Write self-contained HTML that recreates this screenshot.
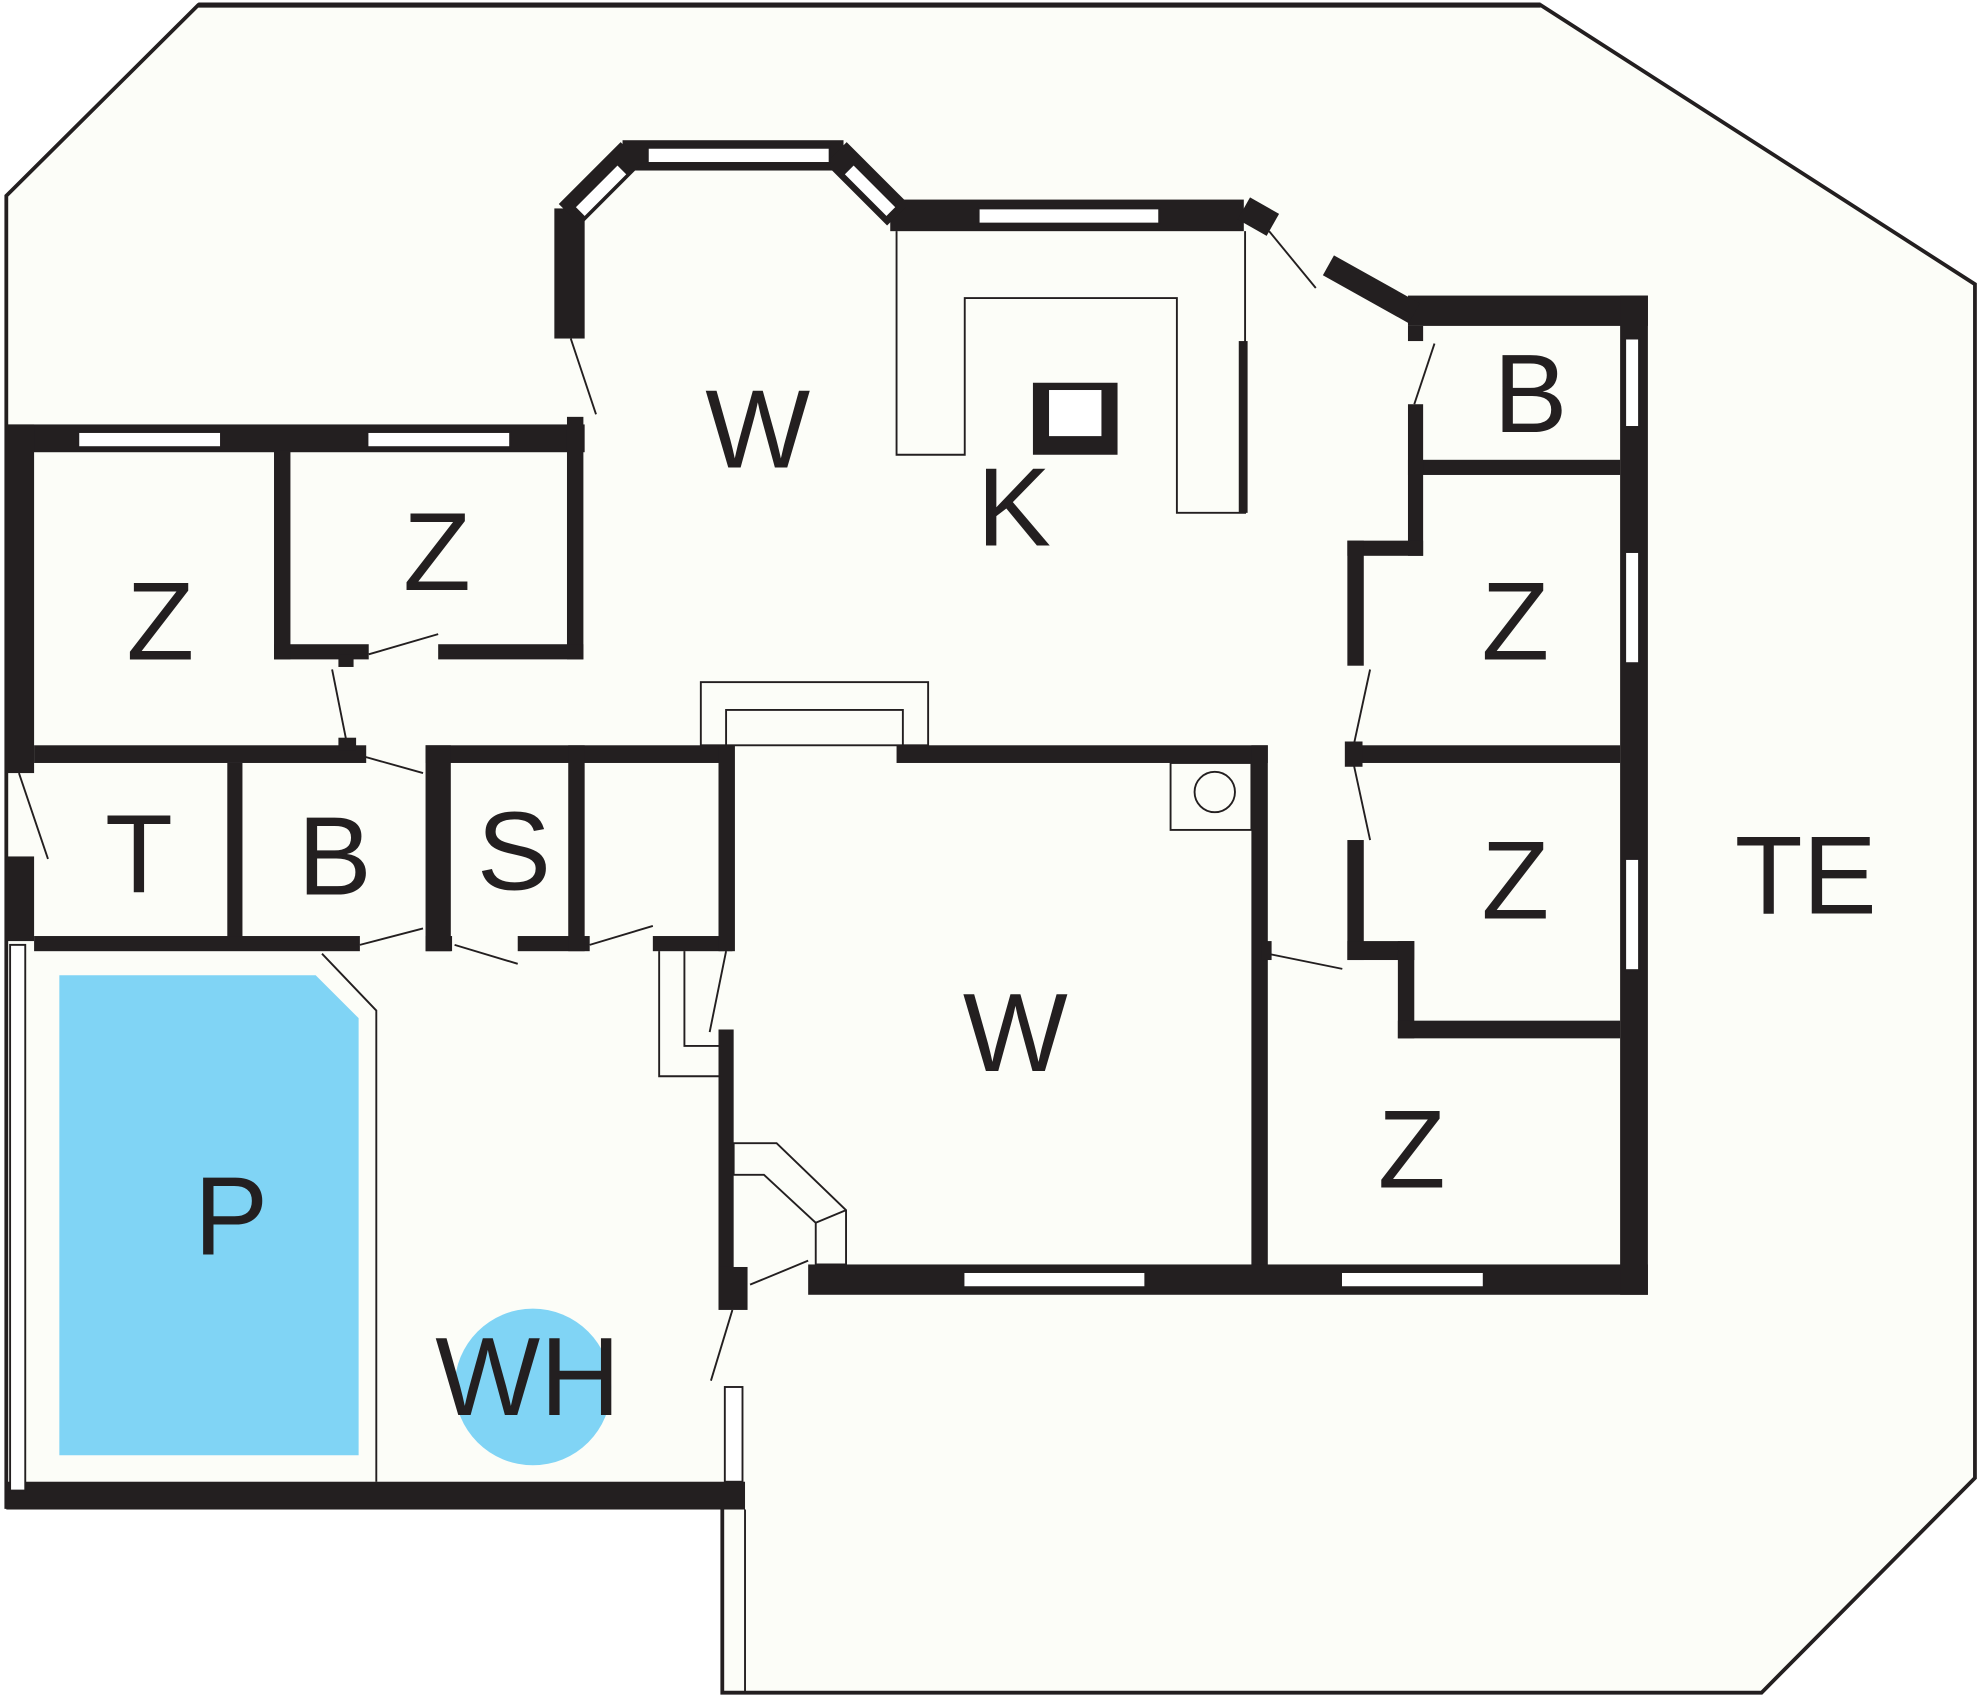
<!DOCTYPE html>
<html><head><meta charset="utf-8"><style>
html,body{margin:0;padding:0;background:#fff;}
svg{display:block;}
text{font-family:"Liberation Sans",sans-serif;font-size:88px;fill:#231f20;text-anchor:middle;}
</style></head><body>
<svg width="1980" height="1699" viewBox="0 0 1568 1345" preserveAspectRatio="none" xmlns="http://www.w3.org/2000/svg">
<rect width="1568" height="1345" fill="#fff"/>
<polygon points="5,155 157,4 1220,4 1564,225 1564,1170 1395,1340 572,1340 572,1193 5,1193" fill="#fcfdf8" stroke="#231f20" stroke-width="3"/>
<line x1="157" y1="4" x2="1220" y2="4" stroke="#231f20" stroke-width="4"/>
<!-- pool -->
<polygon points="47,772 250,772 284,806 284,1152 47,1152" fill="#80d4f5"/>
<circle cx="422" cy="1098" r="62" fill="#80d4f5"/>
<g fill="none" stroke="#231f20" stroke-width="1.5">
<polyline points="255,755 298,800 298,1173"/>
<polyline points="710,183 710,360 764,360 764,236 932,236 932,406 986,406 986,183"/>
<rect x="555" y="540" width="180" height="50"/>
<polyline points="575,590 575,562 715,562 715,590"/>
<rect x="927" y="604" width="64" height="53"/>
<circle cx="962" cy="627" r="16"/>
<polyline points="522,753 522,852 569,852"/><polyline points="542,753 542,828 569,828"/>
<polygon points="581,905 615,905 670,958 670,1001 646,1001 646,968 605,930 581,930"/>
<line x1="646" y1="968" x2="670" y2="958"/>
<line x1="452" y1="268" x2="472" y2="328"/><line x1="292" y1="518" x2="347" y2="502"/>
<line x1="263" y1="530" x2="275" y2="590"/><line x1="285" y1="598" x2="335" y2="612"/>
<line x1="15" y1="612" x2="38" y2="680"/><line x1="285" y1="748" x2="335" y2="735"/>
<line x1="360" y1="748" x2="410" y2="763"/><line x1="467" y1="748" x2="517" y2="733"/>
<line x1="562" y1="817" x2="575" y2="753"/><line x1="594" y1="1017" x2="640" y2="998"/>
<line x1="580" y1="1037" x2="563" y2="1093"/><line x1="1005" y1="183" x2="1042" y2="228"/>
<line x1="1120" y1="320" x2="1136" y2="272"/><line x1="1072" y1="590" x2="1085" y2="530"/>
<line x1="1072" y1="605" x2="1085" y2="665"/><line x1="1004" y1="755" x2="1063" y2="767"/>
<line x1="572" y1="1195" x2="572" y2="1340"/><line x1="590" y1="1195" x2="590" y2="1340"/>
</g>
<g fill="#231f20">
<rect x="5" y="336" width="458" height="22"/>
<rect x="5" y="336" width="22" height="276"/>
<rect x="5" y="678" width="22" height="67"/>
<rect x="5" y="1173" width="585" height="22"/>
<rect x="449" y="330" width="13" height="192"/>
<rect x="217" y="510" width="75" height="12"/><rect x="347" y="510" width="115" height="12"/>
<rect x="217" y="357" width="13" height="165"/>
<rect x="268" y="518" width="12" height="10"/>
<rect x="27" y="590" width="263" height="14"/><rect x="337" y="590" width="243" height="14"/>
<rect x="268" y="584" width="14" height="10"/>
<rect x="180" y="604" width="12" height="141"/>
<rect x="27" y="741" width="258" height="12"/><rect x="337" y="741" width="21" height="12"/>
<rect x="410" y="741" width="57" height="12"/><rect x="517" y="741" width="63" height="12"/>
<rect x="337" y="590" width="20" height="163"/><rect x="450" y="590" width="13" height="163"/><rect x="569" y="590" width="13" height="163"/>
<rect x="710" y="590" width="294" height="14"/><rect x="991" y="590" width="13" height="415"/>
<rect x="640" y="1001" width="665" height="24"/>
<rect x="569" y="815" width="12" height="220"/><rect x="569" y="1003" width="23" height="34"/>
<rect x="439" y="165" width="24" height="103"/>
<rect x="493" y="111" width="175" height="24"/>
<rect x="705" y="158" width="280" height="25"/>
<rect x="1115" y="234" width="190" height="24"/><rect x="1283" y="234" width="22" height="791"/>
<rect x="1115" y="364" width="168" height="12"/>
<rect x="1115" y="258" width="12" height="12"/><rect x="1115" y="320" width="12" height="120"/>
<rect x="1067" y="428" width="60" height="12"/><rect x="1067" y="428" width="13" height="99"/>
<rect x="1067" y="590" width="216" height="14"/><rect x="1065" y="587" width="14" height="20"/>
<rect x="1067" y="665" width="13" height="95"/><rect x="1067" y="745" width="53" height="15"/>
<rect x="1107" y="745" width="13" height="77"/><rect x="1107" y="808" width="176" height="14"/>
<rect x="981" y="270" width="7" height="136"/>
<rect x="818" y="303" width="67" height="57"/>
<rect x="999" y="745" width="8" height="15"/>
</g>
<g stroke="#231f20" stroke-linecap="butt">
<line x1="451" y1="170" x2="500" y2="121" stroke-width="24"/>
<line x1="662" y1="121" x2="711" y2="170" stroke-width="24"/>
<line x1="985" y1="165" x2="1008" y2="178" stroke-width="20"/>
<line x1="1052" y1="210" x2="1120" y2="248" stroke-width="18"/>
</g>
<g fill="#fff" stroke="#231f20" stroke-width="1.5">
<rect x="62" y="342" width="113" height="12"/><rect x="291" y="342" width="113" height="12"/>
<rect x="513" y="117" width="144" height="12"/><rect x="775" y="165" width="143" height="12"/>
<rect x="763" y="1007" width="144" height="12"/><rect x="1062" y="1007" width="113" height="12"/>
<rect x="1287" y="268" width="11" height="70"/><rect x="1287" y="437" width="11" height="88"/><rect x="1287" y="680" width="11" height="88"/>
<rect x="8" y="748" width="12" height="432"/>
<rect x="574" y="1098" width="14" height="75"/>
<rect x="830" y="308" width="43" height="38"/>
<polygon points="455,164 489,130 497,138 463,172"/>
<polygon points="668,138 676,130 710,164 702,172"/>
</g>
<text x="600" y="370">W</text><text x="803" y="432">K</text>
<text x="127" y="522">Z</text><text x="346" y="467">Z</text>
<text x="110" y="706">T</text><text x="265" y="708">B</text><text x="407" y="704">S</text>
<text x="804" y="848">W</text><text x="183" y="993">P</text><text x="418" y="1120">WH</text>
<text x="1212" y="342">B</text><text x="1200" y="522">Z</text><text x="1200" y="727">Z</text>
<text x="1430" y="723">TE</text><text x="1118" y="940">Z</text>
</svg>
</body></html>
